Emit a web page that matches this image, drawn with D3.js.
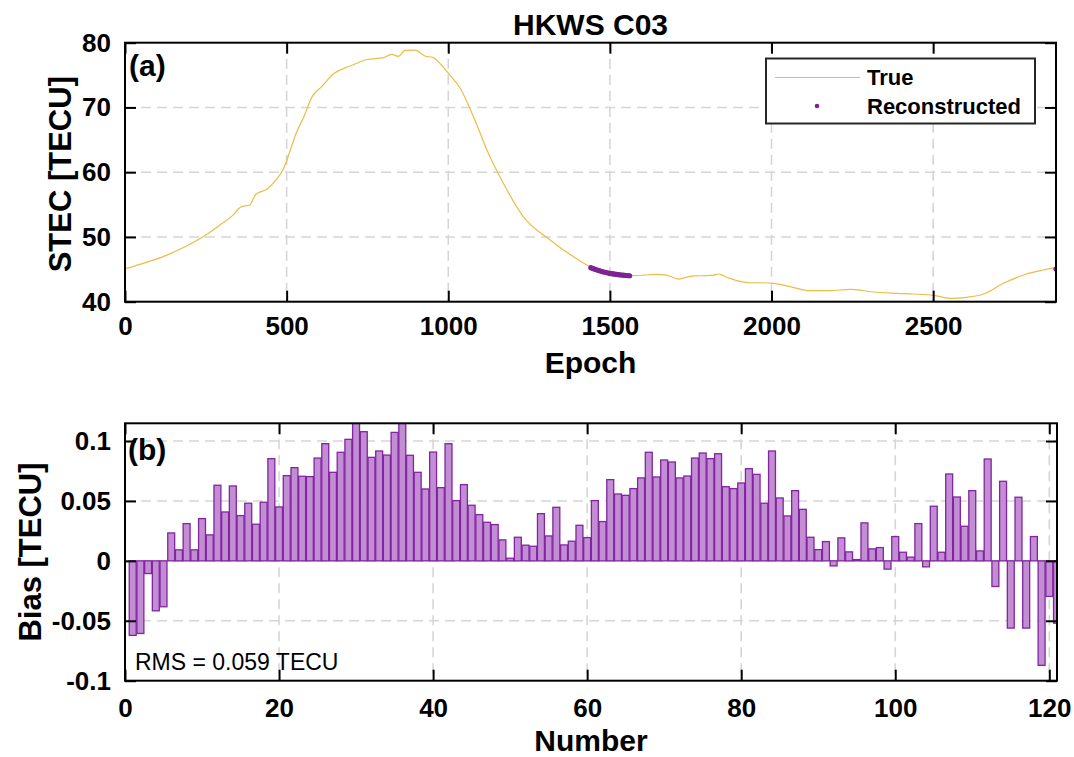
<!DOCTYPE html>
<html>
<head>
<meta charset="utf-8">
<script src="https://cdn.jsdelivr.net/npm/d3@7"></script>
<style>
  html, body { margin: 0; padding: 0; background: #fff; }
  svg text { font-family: "Liberation Sans", Arial, Helvetica, sans-serif; }
</style>
</head>
<body>
<svg id="chart" width="1074" height="757"></svg>
<script>
// ---------------- DATA ----------------
const titleText = "HKWS C03";

// Panel (a): true STEC (epoch, TECU)
const trueEpochs = [0, 60, 130, 190, 250, 295, 335, 357, 372, 385, 405, 440, 470, 490, 510, 531, 552, 578, 610, 645, 676, 706, 748, 800, 825, 846, 866, 897, 928, 954, 980, 1005, 1037, 1078, 1124, 1165, 1232, 1315, 1387, 1439, 1500, 1562, 1605, 1645, 1676, 1712, 1758, 1800, 1822, 1836, 1850, 1872, 1934, 1965, 2006, 2058, 2120, 2181, 2243, 2315, 2388, 2439, 2501, 2553, 2604, 2656, 2718, 2779, 2841, 2880];
const trueSTEC   = [45.05, 46.0, 47.2, 48.6, 50.3, 51.9, 53.4, 54.6, 54.8, 54.9, 56.6, 57.4, 59.0, 60.5, 63.2, 66.2, 68.4, 71.6, 73.3, 75.2, 76.0, 76.6, 77.4, 77.7, 78.2, 77.9, 78.8, 78.85, 77.95, 77.7, 76.5, 75.0, 72.96, 68.57, 62.92, 58.8, 53.13, 49.53, 46.95, 45.4, 44.39, 44.02, 44.1, 44.23, 44.1, 43.5, 44.0, 44.02, 44.1, 44.28, 44.05, 43.6, 42.93, 42.93, 42.84, 42.32, 41.7, 41.7, 41.91, 41.5, 41.3, 41.19, 40.99, 40.52, 40.68, 41.19, 42.84, 44.12, 44.9, 45.3];

// Panel (a): reconstructed STEC
const recEpochs = [1441, 1446, 1451, 1456, 1461, 1466, 1471, 1476, 1481, 1486, 1491, 1496, 1501, 1506, 1511, 1516, 1521, 1526, 1531, 1536, 1541, 1546, 1551, 1556, 1561, 2880];
const recSTEC   = [45.25, 45.15, 45.06, 44.97, 44.89, 44.81, 44.73, 44.66, 44.59, 44.53, 44.47, 44.42, 44.37, 44.33, 44.29, 44.25, 44.21, 44.18, 44.15, 44.12, 44.09, 44.07, 44.05, 44.03, 44.01, 45.05];

// Panel (b): bias per reconstructed number (1..121)
const biasValues = [
  -0.0622, -0.0606, -0.0106, -0.0417, -0.0383, 0.0233, 0.0092, 0.0311, 0.0092, 0.0353,
   0.0217, 0.0631, 0.0408, 0.0625, 0.0378, 0.0481, 0.0306, 0.0489, 0.0853, 0.0450,
   0.0711, 0.0778, 0.0706, 0.0703, 0.0858, 0.0978, 0.0739, 0.0906, 0.1014, 0.1180,
   0.1078, 0.0864, 0.0917, 0.0883, 0.1072, 0.1175, 0.0881, 0.0739, 0.0600, 0.0908,
   0.0611, 0.0978, 0.0503, 0.0636, 0.0464, 0.0386, 0.0322, 0.0303, 0.0175, 0.0022,
   0.0197, 0.0131, 0.0122, 0.0394, 0.0208, 0.0447, 0.0133, 0.0164, 0.0297, 0.0194,
   0.0503, 0.0328, 0.0678, 0.0558, 0.0547, 0.0603, 0.0692, 0.0906, 0.0700, 0.0842,
   0.0825, 0.0692, 0.0708, 0.0858, 0.0900, 0.0853, 0.0894, 0.0619, 0.0603, 0.0650,
   0.0769, 0.0722, 0.0481, 0.0917, 0.0525, 0.0375, 0.0586, 0.0430, 0.0197, 0.0094,
   0.0161, -0.0042, 0.0192, 0.0075, 0.0011, 0.0317, 0.0100, 0.0111, -0.0069, 0.0203,
   0.0072, 0.0031, 0.0311, -0.0050, 0.0456, 0.0072, 0.0725, 0.0533, 0.0289, 0.0586,
   0.0083, 0.0850, -0.0214, 0.0664, -0.0561, 0.0531, -0.0561, 0.0203, -0.0872, -0.0297,
  -0.0520
];
const biasNumbers = biasValues.map((d, i) => i + 1);
const rmsText = "RMS = 0.059 TECU";

// Ticks
const xTicksA = [0, 500, 1000, 1500, 2000, 2500];
const yTicksA = [40, 50, 60, 70, 80];
const xTicksB = [0, 20, 40, 60, 80, 100, 120];
const yTicksB = [-0.1, -0.05, 0, 0.05, 0.1];
const yTickLabelsB = ["-0.1", "-0.05", "0", "0.05", "0.1"];

// ---------------- STYLE ----------------
const trueColor = "#eebb45";
const recColor = "#7E2390";
const barFill = "#c38dd4";
const barStroke = "#8125a0";
const gridColor = "#d6d6d6";
const tickFont = 26, labelFont = 30, titleFont = 30;

const svg = d3.select("#chart");

// Panel geometry
const A = { left: 125, right: 1056, top: 42.7, bottom: 301.7 };
const B = { left: 125, right: 1057, top: 423.3, bottom: 680.7 };

const xA = d3.scaleLinear().domain([0, 2880]).range([A.left, A.right]);
const yA = d3.scaleLinear().domain([40, 80]).range([A.bottom, A.top]);
const xB = d3.scaleLinear().domain([0, 121]).range([B.left, B.right]);
const yB = d3.scaleLinear().domain([-0.1, 0.1148]).range([B.bottom, B.top]);

function clip(id, P) {
  svg.append("clipPath").attr("id", id).append("rect")
    .attr("x", P.left).attr("y", P.top)
    .attr("width", P.right - P.left).attr("height", P.bottom - P.top);
}
clip("clipA", A);
clip("clipB", B);

function grid(P, x, y, xt, yt) {
  const g = svg.append("g");
  g.selectAll(".gx").data(xt.filter(v => x(v) > P.left + 1 && x(v) < P.right - 1)).enter().append("line")
    .attr("x1", d => x(d)).attr("x2", d => x(d)).attr("y1", P.top).attr("y2", P.bottom)
    .attr("stroke", gridColor).attr("stroke-width", 1.6).attr("stroke-dasharray", "10,6");
  g.selectAll(".gy").data(yt.filter(v => y(v) > P.top + 1 && y(v) < P.bottom - 1)).enter().append("line")
    .attr("y1", d => y(d)).attr("y2", d => y(d)).attr("x1", P.left).attr("x2", P.right)
    .attr("stroke", gridColor).attr("stroke-width", 1.6).attr("stroke-dasharray", "10,6");
}

function frame(P, x, y, xt, yt, yfmt, xPad) {
  const tl = 11;
  const gb = svg.append("g").attr("transform", `translate(0,${P.bottom})`)
    .call(d3.axisBottom(x).tickValues(xt).tickSize(-tl).tickPadding(xPad).tickFormat(d3.format("d")));
  const gt = svg.append("g").attr("transform", `translate(0,${P.top})`)
    .call(d3.axisTop(x).tickValues(xt).tickSize(-tl).tickFormat(""));
  const gl = svg.append("g").attr("transform", `translate(${P.left},0)`)
    .call(d3.axisLeft(y).tickValues(yt).tickSize(-tl).tickPadding(14).tickFormat(yfmt));
  const gr = svg.append("g").attr("transform", `translate(${P.right},0)`)
    .call(d3.axisRight(y).tickValues(yt).tickSize(-tl).tickFormat(""));
  [gb, gt, gl, gr].forEach(g => {
    g.select(".domain").remove();
    g.selectAll(".tick line").attr("stroke", "#000").attr("stroke-width", 2);
    g.selectAll("text").attr("fill", "#000").style("font-size", tickFont + "px")
      .style("font-weight", "bold").style("font-family", '"Liberation Sans", Arial, sans-serif');
  });
  svg.append("rect").attr("x", P.left).attr("y", P.top)
    .attr("width", P.right - P.left).attr("height", P.bottom - P.top)
    .attr("fill", "none").attr("stroke", "#000").attr("stroke-width", 2);
  return { gb, gl };
}

// ---------------- PANEL A ----------------
grid(A, xA, yA, xTicksA, yTicksA);

const trueData = trueEpochs.map((e, i) => [e, trueSTEC[i]]);
svg.append("path").datum(trueData)
  .attr("clip-path", "url(#clipA)")
  .attr("fill", "none").attr("stroke", trueColor).attr("stroke-width", 1.2)
  .attr("d", d3.line().x(d => xA(d[0])).y(d => yA(d[1])).curve(d3.curveMonotoneX));

svg.append("g").attr("clip-path", "url(#clipA)")
  .selectAll("circle").data(recEpochs.map((e, i) => [e, recSTEC[i]])).enter().append("circle")
  .attr("cx", d => xA(d[0])).attr("cy", d => yA(d[1])).attr("r", 2.6).attr("fill", recColor);

frame(A, xA, yA, xTicksA, yTicksA, d3.format("d"), 15);

// Legend
const leg = svg.append("g");
leg.append("rect").attr("x", 766).attr("y", 58.5).attr("width", 269).attr("height", 65)
  .attr("fill", "#fff").attr("stroke", "#262626").attr("stroke-width", 2);
leg.append("line").attr("x1", 775).attr("x2", 860).attr("y1", 77.5).attr("y2", 77.5)
  .attr("stroke", trueColor).attr("stroke-width", 1.2);
leg.append("circle").attr("cx", 817).attr("cy", 106).attr("r", 2.3).attr("fill", recColor);
leg.append("text").attr("x", 867).attr("y", 85).text("True")
  .style("font-size", "22px").style("font-weight", "bold");
leg.append("text").attr("x", 867).attr("y", 113.5).text("Reconstructed")
  .style("font-size", "22px").style("font-weight", "bold");

// Labels A
svg.append("text").attr("x", (A.left + A.right) / 2).attr("y", 35).attr("text-anchor", "middle")
  .style("font-size", titleFont + "px").style("font-weight", "bold").text(titleText);
svg.append("text").attr("x", (A.left + A.right) / 2).attr("y", 373).attr("text-anchor", "middle")
  .style("font-size", labelFont + "px").style("font-weight", "bold").text("Epoch");
svg.append("text").attr("transform", `translate(71,${(A.top + A.bottom) / 2 + 2}) rotate(-90)`)
  .attr("text-anchor", "middle").style("font-size", "31px").style("font-weight", "bold")
  .text("STEC [TECU]");
svg.append("text").attr("x", 129).attr("y", 76).style("font-size", "30px").style("font-weight", "bold").text("(a)");

// ---------------- PANEL B ----------------
grid(B, xB, yB, xTicksB, yTicksB);

const barW = 0.9;
svg.append("g").attr("clip-path", "url(#clipB)")
  .selectAll("rect").data(biasNumbers.map((n, i) => [n, biasValues[i]])).enter().append("rect")
  .attr("x", d => xB(d[0] - barW / 2))
  .attr("width", xB(barW) - xB(0))
  .attr("y", d => Math.min(yB(d[1]), yB(0)))
  .attr("height", d => Math.abs(yB(d[1]) - yB(0)))
  .attr("fill", barFill).attr("stroke", barStroke).attr("stroke-width", 1.3);

frame(B, xB, yB, xTicksB, yTicksB, (d, i) => yTickLabelsB[i], 18);

svg.append("text").attr("x", (B.left + B.right) / 2).attr("y", 751).attr("text-anchor", "middle")
  .style("font-size", labelFont + "px").style("font-weight", "bold").text("Number");
svg.append("text").attr("transform", `translate(41,${(B.top + B.bottom) / 2}) rotate(-90)`)
  .attr("text-anchor", "middle").style("font-size", "31px").style("font-weight", "bold")
  .text("Bias [TECU]");
svg.append("text").attr("x", 128).attr("y", 460).style("font-size", "30px").style("font-weight", "bold").text("(b)");
svg.append("text").attr("x", 135).attr("y", 670).style("font-size", "23px").text(rmsText);
</script>
</body>
</html>
